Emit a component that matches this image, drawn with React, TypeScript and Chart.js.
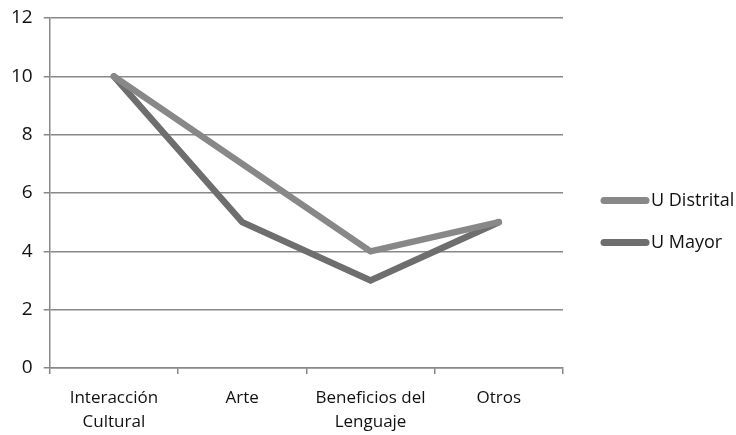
import React, { useEffect, useRef } from "react";
import { Chart, registerables } from "chart.js";

Chart.register(...registerables);

const categories: (string | string[])[] = [
  ["Interacción", "Cultural"],
  "Arte",
  ["Beneficios del", "Lenguaje"],
  "Otros",
];
const seriesNames = ["U Distrital", "U Mayor"];
const uDistrital = [10, 7, 4, 5];
const uMayor = [10, 5, 3, 5];
const yTicks = [0, 2, 4, 6, 8, 10, 12];

const FONT = "'Open Sans', 'Noto Sans', sans-serif";

const sideLegend = {
  id: "sideLegend",
  afterDraw(chart: any) {
    const { ctx, chartArea, height } = chart;
    const x0 = chartArea.right + 38;
    const lineLen = 48;
    const gap = 21;
    const cy = height / 2 + 4;
    ctx.save();
    chart.data.datasets.forEach((d: any, i: number) => {
      const y = cy + (i === 0 ? -gap : gap);
      ctx.strokeStyle = d.borderColor;
      ctx.lineWidth = 7;
      ctx.lineCap = "round";
      ctx.beginPath();
      ctx.moveTo(x0 + 3, y);
      ctx.lineTo(x0 + lineLen - 3, y);
      ctx.stroke();
      ctx.fillStyle = "#111";
      ctx.font = `18px ${FONT}`;
      ctx.textBaseline = "middle";
      ctx.textAlign = "left";
      ctx.fillText(d.label, x0 + lineLen + 2, y);
    });
    ctx.restore();
  },
};

export default function App() {
  const ref = useRef<HTMLCanvasElement>(null);
  useEffect(() => {
    document.body.style.margin = "0";
    const ctx = ref.current!;
    const chart = new Chart(ctx, {
      type: "line",
      data: {
        labels: categories,
        datasets: [
          {
            label: seriesNames[0],
            data: uDistrital,
            borderColor: "#888888",
            backgroundColor: "#888888",
            borderWidth: 6.5,
            pointRadius: 0,
            tension: 0,
            borderCapStyle: "round",
            borderJoinStyle: "miter",
          },
          {
            label: seriesNames[1],
            data: uMayor,
            borderColor: "#6e6e6e",
            backgroundColor: "#6e6e6e",
            borderWidth: 6.5,
            pointRadius: 0,
            tension: 0,
            borderCapStyle: "round",
            borderJoinStyle: "miter",
          },
        ],
      },
      plugins: [sideLegend],
      options: {
        animation: false,
        responsive: false,
        layout: { padding: { left: 0, right: 173, top: 18, bottom: 0 } },
        plugins: {
          tooltip: { enabled: false },
          legend: { display: false },
        },
        scales: {
          x: {
            offset: true,
            afterFit: (scale: any) => {
              scale.height = 67;
            },
            grid: {
              display: true,
              offset: true,
              drawOnChartArea: false,
              tickLength: 6,
              color: "#888",
              lineWidth: 1.5,
            },
            border: { color: "#888", width: 1.5 },
            ticks: {
              color: "#111",
              font: { family: FONT, size: 17, lineHeight: 1.4 },
              maxRotation: 0,
              padding: 12,
            },
          },
          y: {
            min: 0,
            max: 12,
            afterBuildTicks: (axis: any) => {
              axis.ticks = yTicks.map((v) => ({ value: v }));
            },
            afterFit: (scale: any) => {
              scale.paddingTop = 0;
              scale.paddingBottom = 0;
            },
            grid: { color: "#888", lineWidth: 1.5, tickLength: 6 },
            border: { color: "#888", width: 1.5 },
            ticks: {
              color: "#111",
              font: { family: FONT, size: 19 },
              padding: 11,
            },
          },
        },
      },
    });
    return () => chart.destroy();
  }, []);
  return <canvas ref={ref} width={736} height={435} style={{ display: "block" }} />;
}
